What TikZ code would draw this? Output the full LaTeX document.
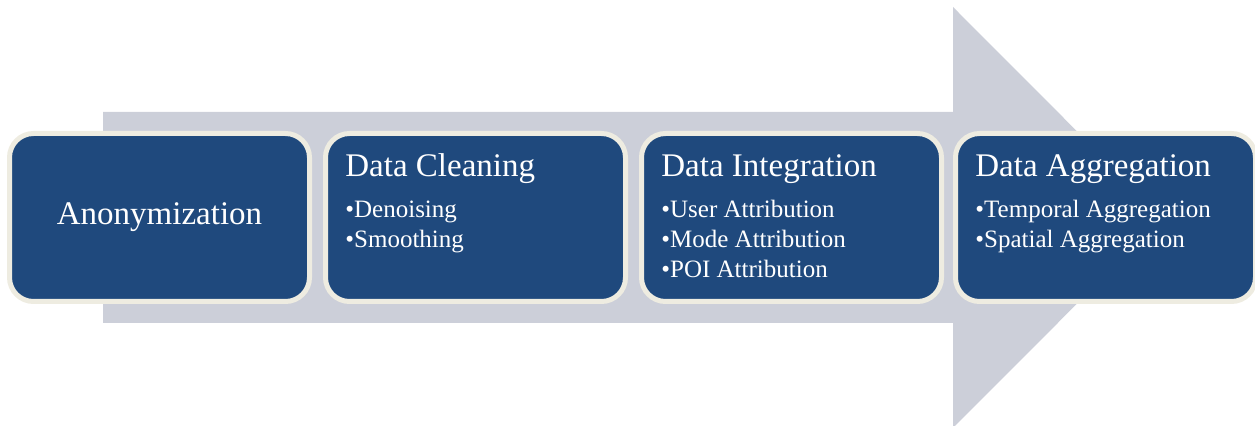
\documentclass[tikz,border=0pt]{standalone}
\usepackage{fontspec}
\setmainfont{Liberation Serif}
\usepackage{tikz}
\usetikzlibrary{positioning}

\definecolor{stageblue}{HTML}{1F497D}
\definecolor{stagerim}{HTML}{EEECE1}
\definecolor{flowgrey}{RGB}{204,207,217}

\tikzset{
  stage/.style={rectangle, rounded corners=12pt, fill=stageblue, draw=stagerim,
    line width=2.5pt, minimum width=150pt, minimum height=84pt, outer sep=0pt,
    inner sep=0pt, text=white, font=\fontsize{16.5}{20}\selectfont},
  heading/.style={anchor=base west, inner sep=0pt, text=white,
    font=\fontsize{16.5}{20}\selectfont},
  items/.style={anchor=base west, inner sep=0pt, text=white, align=left,
    font=\fontsize{12.5}{15}\selectfont}
}

\begin{document}
\begin{tikzpicture}[x=0.5pt,y=-0.5pt]
    \useasboundingbox (0,0) rectangle (1255,426);

    % big arrow behind the stages
    \fill[flowgrey] (103,112) -- (953,112) -- (953,7) -- (1163,217.5)
        -- (953,428) -- (953,323) -- (103,323) -- cycle;

    % the four stages
    \node[stage] (anon) at (159.5,217.5) {Anonymization};
    \node[stage, right=8pt of anon] (clean) {};
    \node[stage, right=8pt of clean] (integ) {};
    \node[stage, right=7pt of integ] (aggr) {};

    % headings and bullet lists (lists hang from their last baseline)
    \node[heading] (cleanhead) at ([xshift=9.75pt,yshift=-21.75pt]clean.north west) {Data Cleaning};
    \node[items] (cleanlist) at ([yshift=-35.5pt]cleanhead.base west)
        {\textbullet Denoising\\ \textbullet Smoothing};

    \node[heading] (integhead) at ([xshift=9.75pt,yshift=-21.75pt]integ.north west) {Data Integration};
    \node[items] (integlist) at ([yshift=-50.5pt]integhead.base west)
        {\textbullet User Attribution\\ \textbullet Mode Attribution\\ \textbullet POI Attribution};

    \node[heading] (aggrhead) at ([xshift=9.75pt,yshift=-21.75pt]aggr.north west) {Data Aggregation};
    \node[items] (aggrlist) at ([yshift=-35.5pt]aggrhead.base west)
        {\textbullet Temporal Aggregation\\ \textbullet Spatial Aggregation};

\end{tikzpicture}
\end{document}
